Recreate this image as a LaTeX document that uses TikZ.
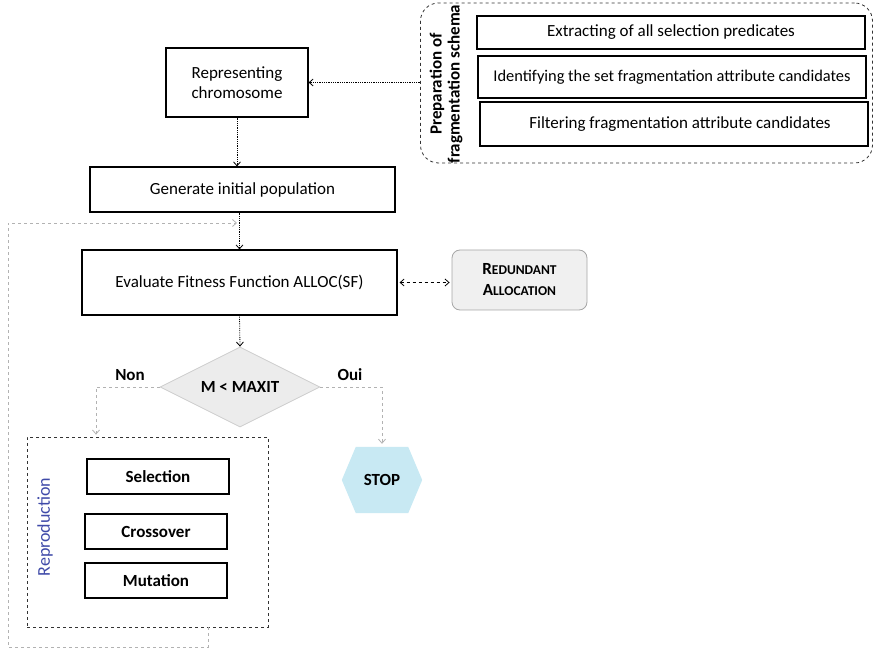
\documentclass[tikz,border=0pt]{standalone}
\usepackage{fontspec}
\setmainfont{Carlito}
\usetikzlibrary{positioning, shapes.geometric, arrows.meta, calc, backgrounds}

\definecolor{stopblue}{HTML}{C8E9F3}
\definecolor{reprblue}{HTML}{3F4AA8}

\begin{document}
\begin{tikzpicture}[
    x=1pt, y=-1pt,
    font=\fontsize{17}{20}\selectfont,
    dotarrow/.style={
        -{Straight Barb[length=4pt,width=7pt]},
        densely dotted,
        thick
    },
    grayarrow/.style={
        -{Straight Barb[length=4pt,width=7pt]},
        dashed,
        draw=gray!60,
        thick
    },
    box/.style={
        rectangle,
        draw,
        line width=1.2pt,
        inner sep=0pt,
        align=center
    },
    boldbox/.style={
        box,
        minimum width=142pt,
        minimum height=35pt,
        font=\fontsize{17}{20}\selectfont\bfseries
    },
    frame/.style={
        rectangle,
        draw=black!80,
        dashed,
        thick,
        inner sep=0pt
    }
]
    \useasboundingbox (0,0) rectangle (873,652);

    % Preparation of fragmentation schema
    \node[frame, rounded corners=18pt, minimum width=452pt, minimum height=160pt] (prep) at (646.5,83) {};
    \node[font=\fontsize{17}{18}\selectfont\bfseries, rotate=90, align=center] (preplabel) at (446,84) {Preparation of\\fragmentation schema};
    \node[box, minimum width=388pt, minimum height=33pt] (extract) at (671,32.5) {Extracting of all selection predicates};
    \node[box, minimum width=388pt, minimum height=42pt, font=\fontsize{16.4}{20}\selectfont] (ident) at (672,77) {Identifying the set fragmentation attribute candidates};
    \node[box, minimum width=388pt, minimum height=44pt] (filter) at (674,124) {\hspace{12pt}Filtering fragmentation attribute candidates};

    % Main flow
    \node[box, minimum width=142pt, minimum height=69pt] (repchrom) at (237,82.5) {Representing\\chromosome};
    \node[box, minimum width=305pt, minimum height=45pt] (genpop) at (242.5,189.5) {Generate initial population};
    \node[box, minimum width=315pt, minimum height=65pt] (evalfit) at (239.5,282.5) {Evaluate Fitness Function ALLOC(SF)};
    \node[rectangle, rounded corners=8pt, draw=gray!70, fill=gray!12, thick, minimum width=135pt, minimum height=60pt, align=center, font=\fontsize{17}{21}\selectfont\bfseries] (redund) at (519.5,280)
        {R{\fontsize{13.5}{16}\selectfont EDUNDANT}\\A{\fontsize{13.5}{16}\selectfont LLOCATION}};

    % Condition
    \node[diamond, draw=gray!40, fill=gray!15, thick, shape aspect=2, minimum width=160pt, minimum height=80pt, inner sep=0pt, font=\fontsize{17}{20}\selectfont\bfseries] (cond) at (240,387) {M < MAXIT};
    \node[font=\fontsize{17}{20}\selectfont\bfseries] (non) at (130,375) {Non};
    \node[font=\fontsize{17}{20}\selectfont\bfseries] (oui) at (350,375) {Oui};

    % Stop
    \node[minimum width=80pt, minimum height=66pt, inner sep=0pt, font=\fontsize{17}{20}\selectfont\bfseries] (stop) at (382,480) {STOP};
    \begin{scope}[on background layer]
        \fill[stopblue] (stop.west) -- ([xshift=14pt]stop.north west) -- ([xshift=-14pt]stop.north east)
            -- (stop.east) -- ([xshift=-14pt]stop.south east) -- ([xshift=14pt]stop.south west) -- cycle;
    \end{scope}

    % Reproduction
    \node[frame, minimum width=241pt, minimum height=190pt] (repro) at (147.5,532) {};
    \node[rotate=90, text=reprblue, font=\fontsize{18}{20}\selectfont] (reprolabel) at (45,527) {Reproduction};
    \node[boldbox] (select) at (158,476.5) {Selection};
    \node[boldbox] (cross) at (156,531.5) {Crossover};
    \node[boldbox] (mutate) at (156,580.5) {Mutation};

    \coordinate (loopbl) at (8,647);
    \coordinate (loopin) at (237,223);

    \draw[dotarrow] (repchrom.east -| prep.west) -- (repchrom.east);
    \draw[dotarrow] (repchrom.south) -- (repchrom.south |- genpop.north);
    \draw[dotarrow] (evalfit.north |- genpop.south) -- (evalfit.north);
    \draw[{Straight Barb[length=4pt,width=7pt]}-{Straight Barb[length=4pt,width=7pt]}, dashed, thick] ([xshift=2pt]evalfit.east) -- ([xshift=-2pt]evalfit.east -| redund.west);
    \draw[dotarrow] (evalfit.south) -- (cond.north);

    \draw[grayarrow] (cond.west) -| ([xshift=-51.5pt,yshift=2pt]repro.north);
    \draw[grayarrow] (cond.east) -| ([yshift=3pt]stop.north);
    \draw[grayarrow] ([xshift=60.5pt]repro.south) |- (loopbl) |- (loopin);
\end{tikzpicture}
\end{document}
